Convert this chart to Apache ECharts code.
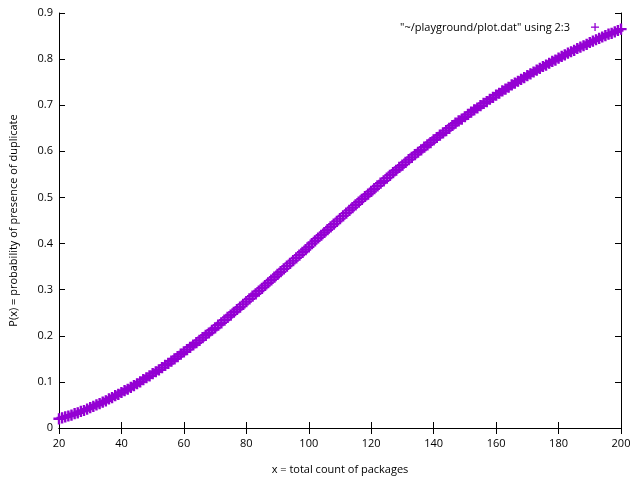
<!DOCTYPE html>
<html>
<head>
<meta charset="utf-8">
<script src="https://cdn.jsdelivr.net/npm/echarts@6/dist/echarts.min.js"></script>
<style>html,body{margin:0;padding:0;background:#fff;}#c{width:640px;height:480px;}</style>
</head>
<body>
<div id="c"></div>
<script>
const xStart = 20;
const probValues = [
0.020,0.022,0.024,0.026,0.028,0.031,0.033,0.036,0.038,0.041,
0.044,0.047,0.050,0.053,0.056,0.059,0.063,0.066,0.070,0.073,
0.077,0.081,0.084,0.088,0.092,0.096,0.100,0.105,0.109,0.113,
0.118,0.122,0.126,0.131,0.136,0.140,0.145,0.150,0.155,0.160,
0.165,0.170,0.175,0.180,0.185,0.190,0.196,0.201,0.206,0.212,
0.217,0.223,0.228,0.234,0.240,0.245,0.251,0.257,0.262,0.268,
0.274,0.280,0.286,0.291,0.297,0.303,0.309,0.315,0.321,0.327,
0.333,0.339,0.345,0.351,0.357,0.363,0.369,0.375,0.381,0.387,
0.393,0.400,0.406,0.412,0.418,0.424,0.430,0.436,0.442,0.448,
0.454,0.460,0.466,0.472,0.478,0.484,0.490,0.496,0.502,0.507,
0.513,0.519,0.525,0.531,0.536,0.542,0.548,0.554,0.559,0.565,
0.570,0.576,0.582,0.587,0.593,0.598,0.603,0.609,0.614,0.619,
0.625,0.630,0.635,0.640,0.645,0.650,0.656,0.661,0.666,0.670,
0.675,0.680,0.685,0.690,0.694,0.699,0.704,0.708,0.713,0.717,
0.722,0.726,0.731,0.735,0.739,0.744,0.748,0.752,0.756,0.760,
0.764,0.768,0.772,0.776,0.780,0.784,0.787,0.791,0.795,0.798,
0.802,0.806,0.809,0.813,0.816,0.819,0.823,0.826,0.829,0.832,
0.836,0.839,0.842,0.845,0.848,0.851,0.854,0.856,0.859,0.862,
0.865
];
const xTicks = [20,40,60,80,100,120,140,160,180,200];
const yTicks = [0,0.1,0.2,0.3,0.4,0.5,0.6,0.7,0.8,0.9];
const seriesName = '"~/playground/plot.dat" using 2:3';
const xLabel = 'x = total count of packages';
const yLabel = 'P(x) = probability of presence of duplicate';

const points = probValues.map((v, i) => [xStart + i, v]);
const plusPath = 'path://M-1,-0.12H-0.12V-1H0.12V-0.12H1V0.12H0.12V1H-0.12V0.12H-1Z';
const FONT = 'Open Sans';
const color = '#9400d3';

const axisCommonX = {
  type: 'value', min: 20, max: 200, interval: 20,
  axisLine: {show: true, lineStyle: {color: '#000', width: 1}},
  axisTick: {show: true, inside: true, length: 6, lineStyle: {color: '#000'}},
  splitLine: {show: false}
};
const axisCommonY = {
  type: 'value', min: 0, max: 0.9, interval: 0.1,
  axisLine: {show: true, lineStyle: {color: '#000', width: 1}},
  axisTick: {show: true, inside: true, length: 6, lineStyle: {color: '#000'}},
  splitLine: {show: false}
};

const chart = echarts.init(document.getElementById('c'), null, {renderer: 'canvas'});
chart.setOption({
  backgroundColor: '#fff',
  animation: false,
  grid: {left: 56, right: 19, top: 13, bottom: 51, containLabel: false},
  legend: {show: false},
  graphic: [
    {type: 'text', right: 70, top: 22,
     style: {text: seriesName, fill: '#000', font: '11px "' + FONT + '"', textAlign: 'right'}},
    {type: 'group', left: 591, top: 23, children: [
      {type: 'rect', shape: {x: 0, y: 3.5, width: 8, height: 1.3}, style: {fill: color}},
      {type: 'rect', shape: {x: 3.4, y: 0, width: 1.3, height: 8}, style: {fill: color}}
    ]}
  ],
  xAxis: [
    Object.assign({}, axisCommonX, {
      position: 'bottom',
      name: xLabel, nameLocation: 'middle', nameGap: 36,
      nameTextStyle: {fontFamily: FONT, fontSize: 11, color: '#000'},
      axisLabel: {fontFamily: FONT, fontSize: 11, color: '#000', margin: 10,
        formatter: v => xTicks.includes(v) ? String(v) : ''}
    }),
    Object.assign({}, axisCommonX, {position: 'top', axisLabel: {show: false}})
  ],
  yAxis: [
    Object.assign({}, axisCommonY, {
      position: 'left',
      name: yLabel, nameLocation: 'middle', nameGap: 40, nameRotate: 90,
      nameTextStyle: {fontFamily: FONT, fontSize: 11, color: '#000'},
      axisLabel: {fontFamily: FONT, fontSize: 11, color: '#000', margin: 6,
        formatter: v => { const t = yTicks.find(y => Math.abs(y - v) < 1e-9); return t === undefined ? '' : (t === 0 ? '0' : t.toFixed(1)); }}
    }),
    Object.assign({}, axisCommonY, {position: 'right', axisLabel: {show: false}})
  ],
  series: [{
    name: seriesName,
    type: 'scatter',
    xAxisIndex: 0, yAxisIndex: 0,
    data: points,
    symbol: plusPath,
    symbolSize: 10,
    itemStyle: {color: color, borderColor: color, borderWidth: 1.2, opacity: 1},
    emphasis: {disabled: true}
  }]
});
</script>
</body>
</html>
